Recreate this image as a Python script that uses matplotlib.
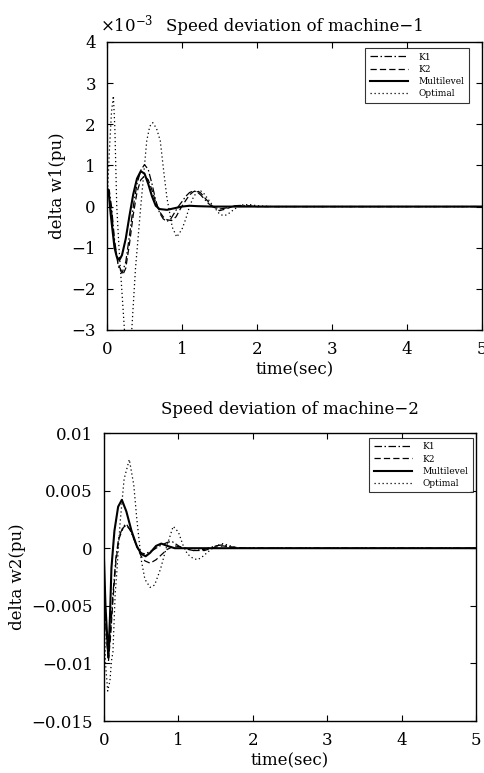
import matplotlib
matplotlib.use("Agg")
import matplotlib.pyplot as plt

plt.rcParams['font.family'] = ['DejaVu Serif']
plt.rcParams['mathtext.fontset'] = 'dejavuserif'

# ---------------- Machine 1 (values in units of 1e-3 pu) ----------------
t1_k1 = [0, 0.03, 0.06, 0.1, 0.15, 0.2, 0.25, 0.3, 0.35, 0.4, 0.45, 0.5, 0.55, 0.6, 0.65, 0.7,
         0.75, 0.8, 0.85, 0.9, 0.95, 1.0, 1.05, 1.1, 1.15, 1.2, 1.25, 1.3, 1.35, 1.4, 1.5, 1.6,
         1.7, 1.8, 2.0, 5.0]
w1_k1 = [0.45, 0.4, 0.0, -0.8, -1.45, -1.62, -1.35, -0.7, 0.0, 0.55, 0.88, 1.02, 0.9, 0.55,
         0.15, -0.15, -0.3, -0.36, -0.3, -0.15, 0.0, 0.12, 0.25, 0.34, 0.38, 0.36, 0.28, 0.18,
         0.08, 0.0, -0.06, -0.03, 0.02, 0.03, 0.0, 0.0]

t1_k2 = [0, 0.03, 0.06, 0.1, 0.15, 0.2, 0.22, 0.25, 0.3, 0.35, 0.4, 0.45, 0.5, 0.55, 0.6, 0.65,
         0.7, 0.75, 0.8, 0.86, 0.92, 0.98, 1.05, 1.1, 1.15, 1.2, 1.25, 1.3, 1.4, 1.5, 1.6, 1.7,
         1.8, 2.0, 5.0]
w1_k2 = [0.35, 0.3, -0.1, -0.9, -1.4, -1.6, -1.62, -1.5, -0.9, -0.2, 0.35, 0.65, 0.74, 0.65,
         0.4, 0.1, -0.12, -0.25, -0.32, -0.34, -0.25, -0.05, 0.15, 0.28, 0.36, 0.39, 0.33, 0.22,
         0.02, -0.1, -0.05, 0.02, 0.02, 0.0, 0.0]

t1_ml = [0, 0.02, 0.05, 0.1, 0.13, 0.165, 0.2, 0.25, 0.3, 0.35, 0.4, 0.45, 0.5, 0.55, 0.6,
         0.65, 0.7, 0.8, 0.9, 1.0, 1.1, 1.2, 1.4, 5.0]
w1_ml = [0.35, 0.4, -0.2, -1.0, -1.22, -1.3, -1.18, -0.78, -0.22, 0.3, 0.68, 0.86, 0.8, 0.55,
         0.25, 0.02, -0.06, -0.08, -0.04, 0.0, 0.02, 0.01, 0.0, 0.0]

t1_op = [0, 0.03, 0.06, 0.085, 0.105, 0.13, 0.16, 0.2, 0.24, 0.27, 0.3, 0.33, 0.36, 0.38,
         0.45, 0.53, 0.57, 0.61, 0.66, 0.71, 0.76, 0.8, 0.87, 0.93, 1.0, 1.05, 1.1, 1.15, 1.2,
         1.25, 1.3, 1.4, 1.5, 1.55, 1.6, 1.7, 1.8, 1.9, 2.0, 2.2, 5.0]
w1_op = [0.0, 1.3, 2.3, 2.69, 1.9, 0.0, -1.0, -2.1, -3.2, -3.4, -3.25, -3.0, -2.1, -1.5,
         0.0, 1.6, 1.95, 2.04, 1.9, 1.6, 0.8, 0.2, -0.5, -0.74, -0.55, -0.3, 0.0, 0.22, 0.36,
         0.38, 0.3, 0.05, -0.18, -0.22, -0.2, -0.06, 0.04, 0.05, 0.02, 0.0, 0.0]

# ---------------- Machine 2 (pu) ----------------
t2_k1 = [0, 0.03, 0.06, 0.09, 0.12, 0.16, 0.2, 0.26, 0.3, 0.35, 0.4, 0.45, 0.5, 0.55, 0.65,
         0.75, 0.85, 0.91, 0.98, 1.05, 1.2, 1.35, 1.5, 1.6, 1.7, 1.9, 5.0]
w2_k1 = [-0.002, -0.007, -0.0095, -0.007, -0.004, -0.0008, 0.001, 0.0019, 0.0021, 0.0016,
         0.0008, 0.0, -0.0004, -0.0005, -0.0002, 0.0002, 0.0005, 0.0006, 0.0003, 0.0, -0.0002,
         -0.0001, 0.0002, 0.0003, 0.0001, 0.0, 0.0]

t2_k2 = [0, 0.03, 0.06, 0.09, 0.12, 0.16, 0.2, 0.26, 0.3, 0.35, 0.4, 0.45, 0.5, 0.55, 0.62,
         0.7, 0.75, 0.85, 0.95, 1.05, 1.2, 1.35, 1.5, 1.6, 1.7, 1.9, 5.0]
w2_k2 = [-0.0025, -0.0075, -0.0098, -0.0075, -0.0045, -0.0012, 0.0008, 0.0018, 0.002, 0.0016,
         0.0009, 0.0, -0.0007, -0.0011, -0.0013, -0.001, -0.0007, -0.0001, 0.0002, 0.0001,
         -0.0002, -0.0002, 0.0001, 0.0002, 0.0001, 0.0, 0.0]

t2_ml = [0, 0.02, 0.058, 0.08, 0.1, 0.14, 0.19, 0.24, 0.3, 0.37, 0.44, 0.5, 0.56, 0.62, 0.7,
         0.77, 0.85, 0.95, 5.0]
w2_ml = [-0.001, -0.005, -0.0095, -0.006, -0.0017, 0.0015, 0.0036, 0.0042, 0.0032, 0.0015,
         0.0002, -0.0005, -0.0007, -0.0004, 0.0002, 0.0004, 0.0002, 0.0, 0.0]

t2_op = [0, 0.02, 0.05, 0.08, 0.1, 0.12, 0.15, 0.17, 0.215, 0.27, 0.34, 0.4, 0.44, 0.5, 0.55,
         0.62, 0.68, 0.76, 0.84, 0.93, 1.0, 1.06, 1.12, 1.2, 1.26, 1.33, 1.42, 1.5, 1.6, 1.7,
         1.8, 5.0]
w2_op = [-0.004, -0.010, -0.0124, -0.0115, -0.0098, -0.009, -0.004, -0.0023, 0.0021, 0.006,
         0.0077, 0.0055, 0.0026, -0.001, -0.0027, -0.0034, -0.0032, -0.0018, 0.0001, 0.0019,
         0.0014, 0.0003, -0.0005, -0.0009, -0.001, -0.0007, -0.0002, 0.0002, 0.0004, 0.0002,
         0.0, 0.0]

labels = ['K1', 'K2', 'Multilevel', 'Optimal']
x_ticks = [0, 1, 2, 3, 4, 5]
y1_ticks = [-3, -2, -1, 0, 1, 2, 3, 4]
y2_ticks = [-0.015, -0.01, -0.005, 0, 0.005, 0.01]
y2_ticklabels = ['\u22120.015', '\u22120.01', '\u22120.005', '0', '0.005', '0.01']

fig = plt.figure(figsize=(4.84, 7.73), dpi=100)
ax1 = fig.add_axes([107/484, 1-330/773, 375/484, 288/773])
ax2 = fig.add_axes([104/484, 1-721/773, 372/484, 288/773])

styles = [dict(ls=(0, (6, 2, 1.2, 2)), lw=0.9),
          dict(ls=(0, (5, 2.5)), lw=0.9),
          dict(ls='-', lw=1.5),
          dict(ls=(0, (1, 2.2)), lw=0.9)]

series1 = [(t1_k1, w1_k1), (t1_k2, w1_k2), (t1_ml, w1_ml), (t1_op, w1_op)]
series2 = [(t2_k1, w2_k1), (t2_k2, w2_k2), (t2_ml, w2_ml), (t2_op, w2_op)]

for ax, series in ((ax1, series1), (ax2, series2)):
    for (t, w), st, lab in zip(series, styles, labels):
        ax.plot(t, w, color='black', label=lab, **st)
    ax.set_xlim(0, 5)
    ax.set_xticks(x_ticks)
    ax.tick_params(direction='in', top=True, right=True, length=4, width=0.8,
                   labelsize=12, pad=8)
    for s in ax.spines.values():
        s.set_linewidth(1.0)
    ax.set_xlabel('time(sec)', fontsize=12, labelpad=2)

ax1.set_ylim(-3, 4)
ax1.set_yticks(y1_ticks)
ax1.set_yticklabels(['\u22123', '\u22122', '\u22121', '0', '1', '2', '3', '4'])
ax1.set_title('Speed deviation of machine\u22121', fontsize=12, pad=8)
ax1.set_ylabel('delta w1(pu)', fontsize=12, labelpad=4)
ax1.text(-0.02, 1.06, r'$\times10^{-3}$', transform=ax1.transAxes, fontsize=12,
         ha='left', va='center')

ax2.set_ylim(-0.015, 0.01)
ax2.set_yticks(y2_ticks)
ax2.set_yticklabels(y2_ticklabels)
ax2.set_title('Speed deviation of machine\u22122', fontsize=12, pad=14)
ax2.set_ylabel('delta w2(pu)', fontsize=12, labelpad=4)

for ax, anchor in ((ax1, (0.965, 0.979)), (ax2, (0.992, 0.983))):
    leg = ax.legend(loc='upper right', bbox_to_anchor=anchor, borderaxespad=0,
                    fontsize=6.5, frameon=True, fancybox=False, handlelength=4.2,
                    labelspacing=0.35, borderpad=0.5, handletextpad=1.2)
    leg.get_frame().set_edgecolor('black')
    leg.get_frame().set_linewidth(0.8)

fig.savefig('out.png', dpi=100)
